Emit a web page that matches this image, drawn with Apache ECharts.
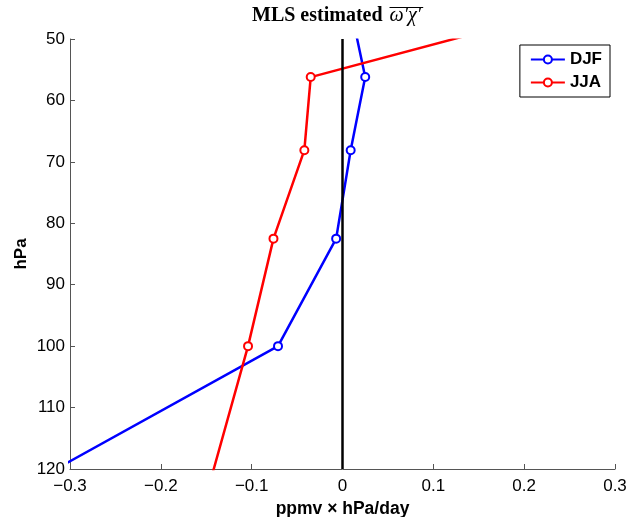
<!DOCTYPE html>
<html>
<head>
<meta charset="utf-8">
<script src="https://cdn.jsdelivr.net/npm/echarts@6/dist/echarts.min.js"></script>
<style>html,body{margin:0;padding:0;background:#fff}#c{width:630px;height:517px}</style>
</head>
<body>
<div id="c"></div>
<script>
// Pressure levels (hPa) and values (ppmv x hPa/day)
const levels = [46.4, 56.2, 68.1, 82.5, 100, 121.2];
const djf = [0.011, 0.025, 0.009, -0.007, -0.071, -0.33];
const jja = [0.214, -0.035, -0.042, -0.076, -0.104, -0.144];
const seriesNames = ['DJF', 'JJA'];
const xTicks = [-0.3, -0.2, -0.1, 0, 0.1, 0.2, 0.3];
const yTicks = [50, 60, 70, 80, 90, 100, 110, 120];
const zeroLine = 0;
const titleMain = 'MLS estimated';
const titleSym = '\u03c9\u2032\u03c7\u2032';

const chart = echarts.init(document.getElementById('c'), null, {renderer: 'canvas'});
const sans = 'Liberation Sans, Helvetica, Arial, sans-serif';
const serif = 'Liberation Serif, DejaVu Serif, serif';
const axisCol = '#555';
function pairs(vals) { return vals.map((v, i) => [v, levels[i]]); }
function fmtX(v) {
  const r = Math.round(v * 10) / 10;
  if (r === 0) return '0';
  return (r < 0 ? '\u2212' : '') + Math.abs(r).toFixed(1);
}
const ctx = document.createElement('canvas').getContext('2d');
function textW(str, font) { ctx.font = font; return ctx.measureText(str).width; }
const fMain = 'bold 20px ' + serif;
const fSym = 'italic 20px ' + serif;
const wMain = textW(titleMain, fMain);
const wSym = textW(titleSym, fSym);
const titleStart = 252;
const symStart = titleStart + wMain + 7;

const lineSeries = (name, vals, color, extra) => Object.assign({
  name: name, type: 'line', data: pairs(vals), clip: true,
  symbol: 'circle', symbolSize: 8, showSymbol: true,
  itemStyle: {color: '#fff', borderColor: color, borderWidth: 2},
  lineStyle: {color: color, width: 2.5},
  color: color, z: 3, animation: false
}, extra || {});

chart.setOption({
  animation: false,
  graphic: [
    {type: 'rect', z: 5, shape: {x: 72, y: 0, width: 558, height: 38.5}, style: {fill: '#fff'}, silent: true},
    {type: 'text', z: 6, x: titleStart, y: 26,
     style: {text: titleMain, font: fMain, fill: '#000', textAlign: 'left', textVerticalAlign: 'bottom'}},
    {type: 'text', z: 6, x: symStart, y: 26,
     style: {text: titleSym, font: fSym, fill: '#000', textAlign: 'left', textVerticalAlign: 'bottom'}},
    {type: 'line', z: 6, shape: {x1: symStart, y1: 7.5, x2: symStart + wSym + 2, y2: 7.5},
     style: {stroke: '#000', lineWidth: 1}}
  ],
  grid: {left: 70, right: 15, top: 39, bottom: 48, containLabel: false, outerBoundsMode: 'none'},
  legend: {
    right: 20, top: 45, orient: 'vertical',
    data: seriesNames,
    borderColor: '#000', borderWidth: 1, backgroundColor: '#fff',
    padding: [6, 8, 6, 10], itemGap: 6, itemWidth: 34, itemHeight: 10,
    textStyle: {fontFamily: sans, fontWeight: 'bold', fontSize: 17, color: '#000'}
  },
  xAxis: {
    type: 'value', min: xTicks[0], max: xTicks[xTicks.length - 1], interval: 0.1,
    axisLine: {show: true, onZero: false, lineStyle: {color: axisCol, width: 1}},
    axisTick: {show: true, inside: true, length: 5, lineStyle: {color: axisCol}},
    axisLabel: {formatter: fmtX, fontFamily: sans, fontSize: 17, color: '#000', margin: 9},
    splitLine: {show: false},
    name: 'ppmv \u00d7 hPa/day', nameLocation: 'middle', nameGap: 30,
    nameTextStyle: {fontFamily: sans, fontWeight: 'bold', fontSize: 17.5, color: '#000'}
  },
  yAxis: {
    type: 'value', inverse: true, min: yTicks[0], max: yTicks[yTicks.length - 1], interval: 10,
    axisLine: {show: true, onZero: false, lineStyle: {color: axisCol, width: 1}},
    axisTick: {show: true, inside: true, length: 5, lineStyle: {color: axisCol}},
    axisLabel: {fontFamily: sans, fontSize: 17, color: '#000', margin: 5},
    splitLine: {show: false},
    name: 'hPa', nameLocation: 'middle', nameGap: 40, nameRotate: 90, nameMoveOverlap: false,
    nameTextStyle: {fontFamily: sans, fontWeight: 'bold', fontSize: 17, color: '#000'}
  },
  series: [
    lineSeries('DJF', djf, '#0000ff', {
      markLine: {
        silent: true, symbol: 'none', animation: false,
        label: {show: false},
        lineStyle: {color: '#000', width: 2.5, type: 'solid'},
        data: [{xAxis: zeroLine}]
      }
    }),
    lineSeries('JJA', jja, '#ff0000')
  ]
});
</script>
</body>
</html>
